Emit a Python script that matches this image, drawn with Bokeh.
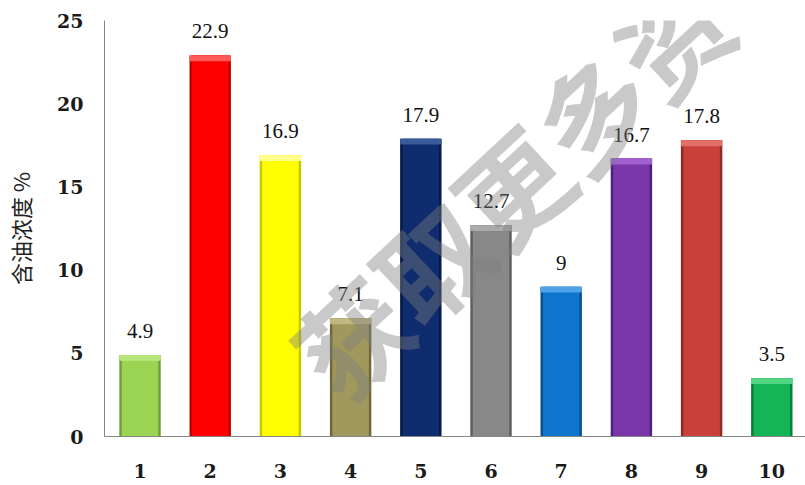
from bokeh.plotting import figure
from bokeh.models import ColumnDataSource, LabelSet, Label
from bokeh.embed import file_html
from bokeh.resources import INLINE

categories = ["1", "2", "3", "4", "5", "6", "7", "8", "9", "10"]
values = [4.9, 22.9, 16.9, 7.1, 17.9, 12.7, 9, 16.7, 17.8, 3.5]
value_labels = ["4.9", "22.9", "16.9", "7.1", "17.9", "12.7", "9", "16.7", "17.8", "3.5"]
bar_colors = ["#9AD452", "#FF0000", "#FFFF00", "#A0985C", "#0F2C6E", "#888888",
              "#0D76CC", "#7A35AA", "#C9403A", "#14B556"]
edge_colors = ["#6E9E36", "#C00000", "#C8C800", "#6E6838", "#071A48", "#5E5E5E",
               "#08508E", "#50207A", "#8E2A26", "#0A7E3A"]
bevel_colors = ["#B8E67C", "#FF5A5A", "#FFFF8C", "#C0B880", "#3A5A9A", "#ABABAB",
                "#4EA2E6", "#A060D0", "#E07068", "#52D684"]
y_ticks = [0, 5, 10, 15, 20, 25]
y_title = "含油浓度 %"
watermark = "获取更多资"

xs = list(range(1, len(categories) + 1))
bevel_bottom = [v - 0.35 for v in values]

src = ColumnDataSource(dict(x=xs, top=values, lab=value_labels, fill=bar_colors,
                            edge=edge_colors, bevel=bevel_colors, bb=bevel_bottom))

p = figure(width=805, height=485, x_range=(0.494, 10.48), y_range=(0, 25),
           output_backend="svg", toolbar_location=None,
           min_border_left=104, min_border_right=0, min_border_top=20, min_border_bottom=49)
p.outline_line_color = None
p.xgrid.grid_line_color = None
p.ygrid.grid_line_color = None
p.background_fill_color = "white"
p.border_fill_color = "white"

p.vbar(x="x", top="top", width=0.59, bottom=0, fill_color="edge", line_color=None, source=src)
p.vbar(x="x", top="top", width=0.52, bottom=0, fill_color="fill", line_color=None, source=src)
p.vbar(x="x", top="top", bottom="bb", width=0.59, fill_color="bevel", line_color=None, source=src)

labels = LabelSet(x="x", y="top", text="lab", source=src, text_align="center",
                  text_baseline="middle", y_offset=24, text_font="DejaVu Serif",
                  text_font_size="21px", text_color="#111111")
p.add_layout(labels)

for ax in (p.xaxis[0], p.yaxis[0]):
    ax.axis_line_color = "#868686"
    ax.axis_line_width = 1
    ax.major_tick_line_color = None
    ax.minor_tick_line_color = None
    ax.major_tick_in = 0
    ax.major_tick_out = 0
    ax.minor_tick_in = 0
    ax.minor_tick_out = 0
    ax.major_label_text_font = "DejaVu Serif"
    ax.major_label_text_font_style = "bold"
    ax.major_label_text_font_size = "19px"
    ax.major_label_text_color = "#1a1a1a"

p.yaxis.ticker = y_ticks
p.yaxis.major_label_standoff = 21
p.yaxis.axis_label = y_title
p.yaxis.axis_label_text_font = "Noto Sans CJK SC"
p.yaxis.axis_label_text_font_style = "normal"
p.yaxis.axis_label_text_font_size = "22px"
p.yaxis.axis_label_text_color = "#222222"
p.yaxis.axis_label_standoff = 18

p.xaxis.ticker = xs
p.xaxis.major_label_overrides = {x: c for x, c in zip(xs, categories)}
p.xaxis.major_label_standoff = 27

wm = Label(x=6.28, y=15.1, text=watermark, angle=0.75, text_align="center",
           text_baseline="middle", text_font="Noto Sans CJK SC",
           text_font_style="bold", text_font_size="110px",
           text_color="#7F7F7F", text_alpha=0.42)
p.add_layout(wm)

open("out.html", "w").write(file_html(p, INLINE))
